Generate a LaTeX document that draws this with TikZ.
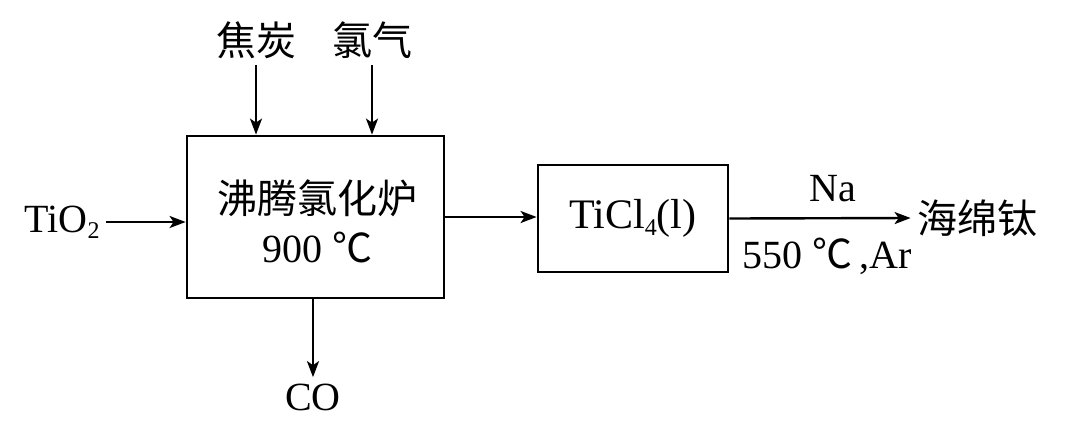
\documentclass[tikz,border=0pt]{standalone}
\usepackage{fontspec}
\usepackage{tikz}
\usetikzlibrary{arrows.meta}
\setmainfont{Liberation Serif}
\newfontfamily\cjk{Noto Sans CJK SC}
\newcommand{\chemsub}[1]{\raisebox{-0.35ex}{\fontsize{12}{12}\selectfont #1}}

\tikzset{
  unit/.style={draw,line width=1.4pt,inner sep=0pt},
  flow/.style={line width=1.2pt,-{Stealth[length=8pt,width=6pt,inset=2pt]}},
  lbl/.style={inner sep=3pt}
}

\begin{document}
\begin{tikzpicture}[x=0.5pt,y=-0.5pt,font=\fontsize{20}{24}\selectfont]
  \useasboundingbox (0,0) rectangle (1080,424);

  % Furnace and TiCl4 boxes
  \node[unit,minimum width=128.5pt,minimum height=81pt] (furnace) at (315.5,217) {};
  \node[lbl] (furnacename) at (317,198) {\cjk 沸腾氯化炉};
  \node[lbl] (furnacetemp) at (317,247) {900 {\cjk ℃}};
  \node[unit,minimum width=95pt,minimum height=53.5pt] (ticl) at (633,218.5)
    {\fontsize{21}{24}\selectfont TiCl\chemsub{4}(l)};

  % Inputs
  \node[lbl] (tio) at (62,222) {TiO\chemsub{2}};
  \draw[flow] (tio.east) -- (tio.east -| furnace.west);
  \node[lbl] (coke) at (256,40) {\cjk 焦炭};
  \node[lbl] (chlor) at (372,40) {\cjk 氯气};
  \draw[flow] (coke.south) -- (coke.south |- furnace.north);
  \draw[flow] (chlor.south) -- (chlor.south |- furnace.north);

  % Outputs
  \node[lbl] (co) at (313,397) {CO};
  \draw[flow] (co |- furnace.south) -- (co.north);
  \draw[flow] (furnace.east) -- (furnace.east -| ticl.west);
  \node[lbl] (sponge) at (977,218) {\cjk 海绵钛};
  \draw[flow] (ticl.east) -- (sponge.west)
    node[pos=0.57,above=4pt] {Na}
    node[pos=0.54,below=6pt] {550 {\cjk ℃}\,,Ar};
\end{tikzpicture}
\end{document}
